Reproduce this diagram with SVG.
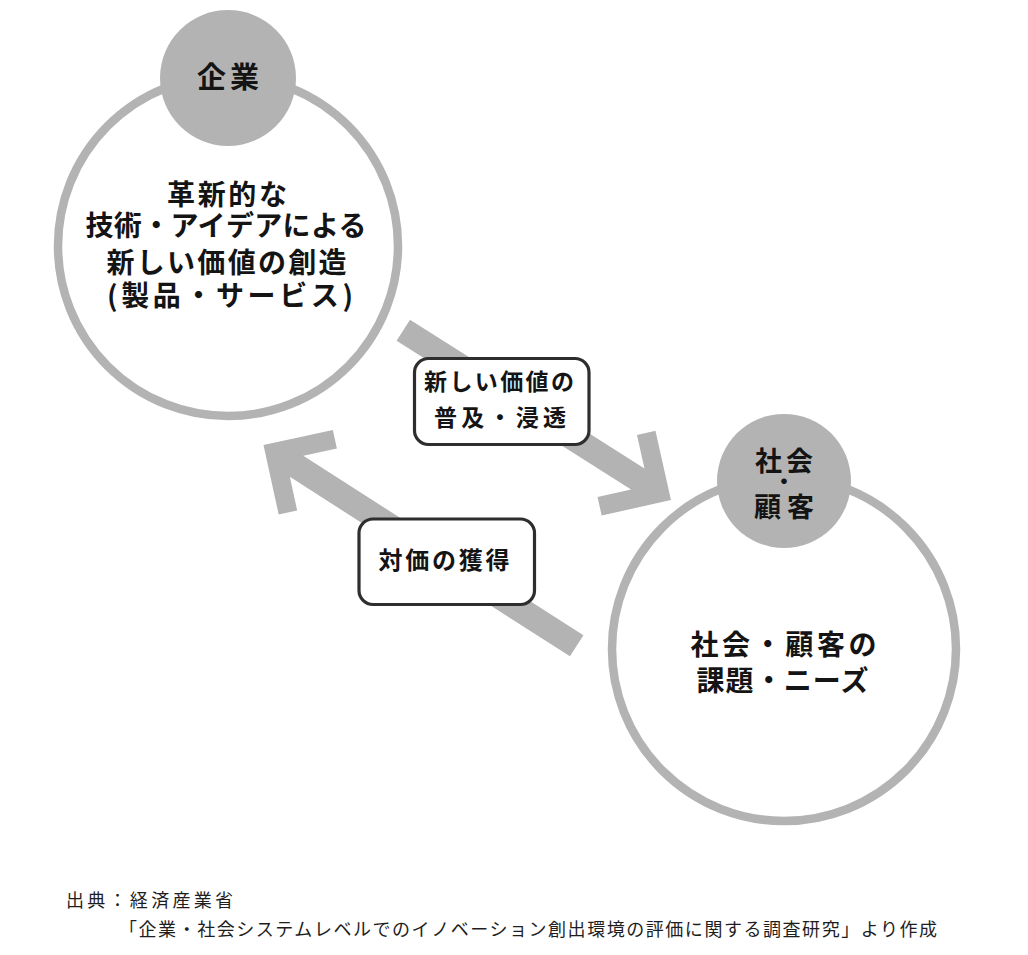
<svg xmlns="http://www.w3.org/2000/svg" width="1028" height="955" viewBox="0 0 1028 955">
<style>
.ring{fill:#ffffff;stroke:#b3b3b3;stroke-width:8.5}
.badge{fill:#b3b3b3}
.arrow{fill:#b3b3b3}
.box{fill:#ffffff;stroke:#2e2e2e;stroke-width:3.2}
.t{font-family:"Noto Sans CJK JP","Noto Sans CJK SC",sans-serif;font-weight:bold;fill:#141414;text-anchor:middle}
.f{font-family:"Noto Sans CJK JP","Noto Sans CJK SC",sans-serif;fill:#1e1e1e;font-size:18px}
</style>
<defs>
<polygon id="arrowL317" points="0,-12.5 277.7,-12.5 253.4,-36.8 266.8,-50.2 317,0 266.8,50.2 253.4,36.8 277.7,12.5 0,12.5"/>
<polygon id="arrowL372" points="0,-12.5 332.7,-12.5 308.4,-36.8 321.8,-50.2 372,0 321.8,50.2 308.4,36.8 332.7,12.5 0,12.5"/>
</defs>
<rect width="1028" height="955" fill="#ffffff"/>

<g id="connectors">
<use href="#arrowL317" class="arrow" transform="translate(403.3,330.2) rotate(32.4)"/>
<use href="#arrowL372" class="arrow" transform="translate(576.7,645.8) rotate(212.65)"/>
</g>

<g id="node-kigyo">
<circle class="ring" cx="228" cy="246" r="170"/>
<circle class="badge" cx="228" cy="78" r="68"/>
<text class="t" x="228" y="88" font-size="29" textLength="62" lengthAdjust="spacing">企業</text>
<text class="t" x="227" y="205" font-size="28" textLength="120" lengthAdjust="spacing">革新的な</text>
<text class="t" x="226" y="236" font-size="28" textLength="281" lengthAdjust="spacing">技術・アイデアによる</text>
<text class="t" x="226.5" y="273" font-size="28" textLength="240" lengthAdjust="spacing">新しい価値の創造</text>
<text class="t" x="230" y="306" font-size="28" textLength="246" lengthAdjust="spacing">(製品・サービス)</text>
</g>

<g id="node-shakai">
<circle class="ring" cx="784" cy="649" r="172"/>
<circle class="badge" cx="784" cy="481" r="67"/>
<text class="t" x="784" y="471" font-size="27" textLength="58" lengthAdjust="spacing">社会</text>
<text class="t" x="784" y="489" font-size="22">・</text>
<text class="t" x="784" y="517" font-size="27" textLength="60" lengthAdjust="spacing">顧客</text>
<text class="t" x="783.5" y="655" font-size="28" textLength="186" lengthAdjust="spacing">社会・顧客の</text>
<text class="t" x="782.5" y="691" font-size="28" textLength="172" lengthAdjust="spacing">課題・ニーズ</text>
</g>

<g id="label-fukyu">
<rect class="box" x="414.5" y="358.5" width="174.5" height="86" rx="14"/>
<text class="t" x="499" y="390" font-size="23" textLength="150" lengthAdjust="spacing">新しい価値の</text>
<text class="t" x="500" y="426" font-size="23" textLength="132" lengthAdjust="spacing">普及・浸透</text>
</g>

<g id="label-taika">
<rect class="box" x="359" y="519" width="175.5" height="85.5" rx="14"/>
<text class="t" x="444" y="569" font-size="24" textLength="131" lengthAdjust="spacing">対価の獲得</text>
</g>

<g id="footer">
<text class="f" x="66" y="907" textLength="167" lengthAdjust="spacing">出典：経済産業省</text>
<text class="f" x="119" y="936" textLength="818" lengthAdjust="spacing">「企業・社会システムレベルでのイノベーション創出環境の評価に関する調査研究」より作成</text>
</g>
</svg>
